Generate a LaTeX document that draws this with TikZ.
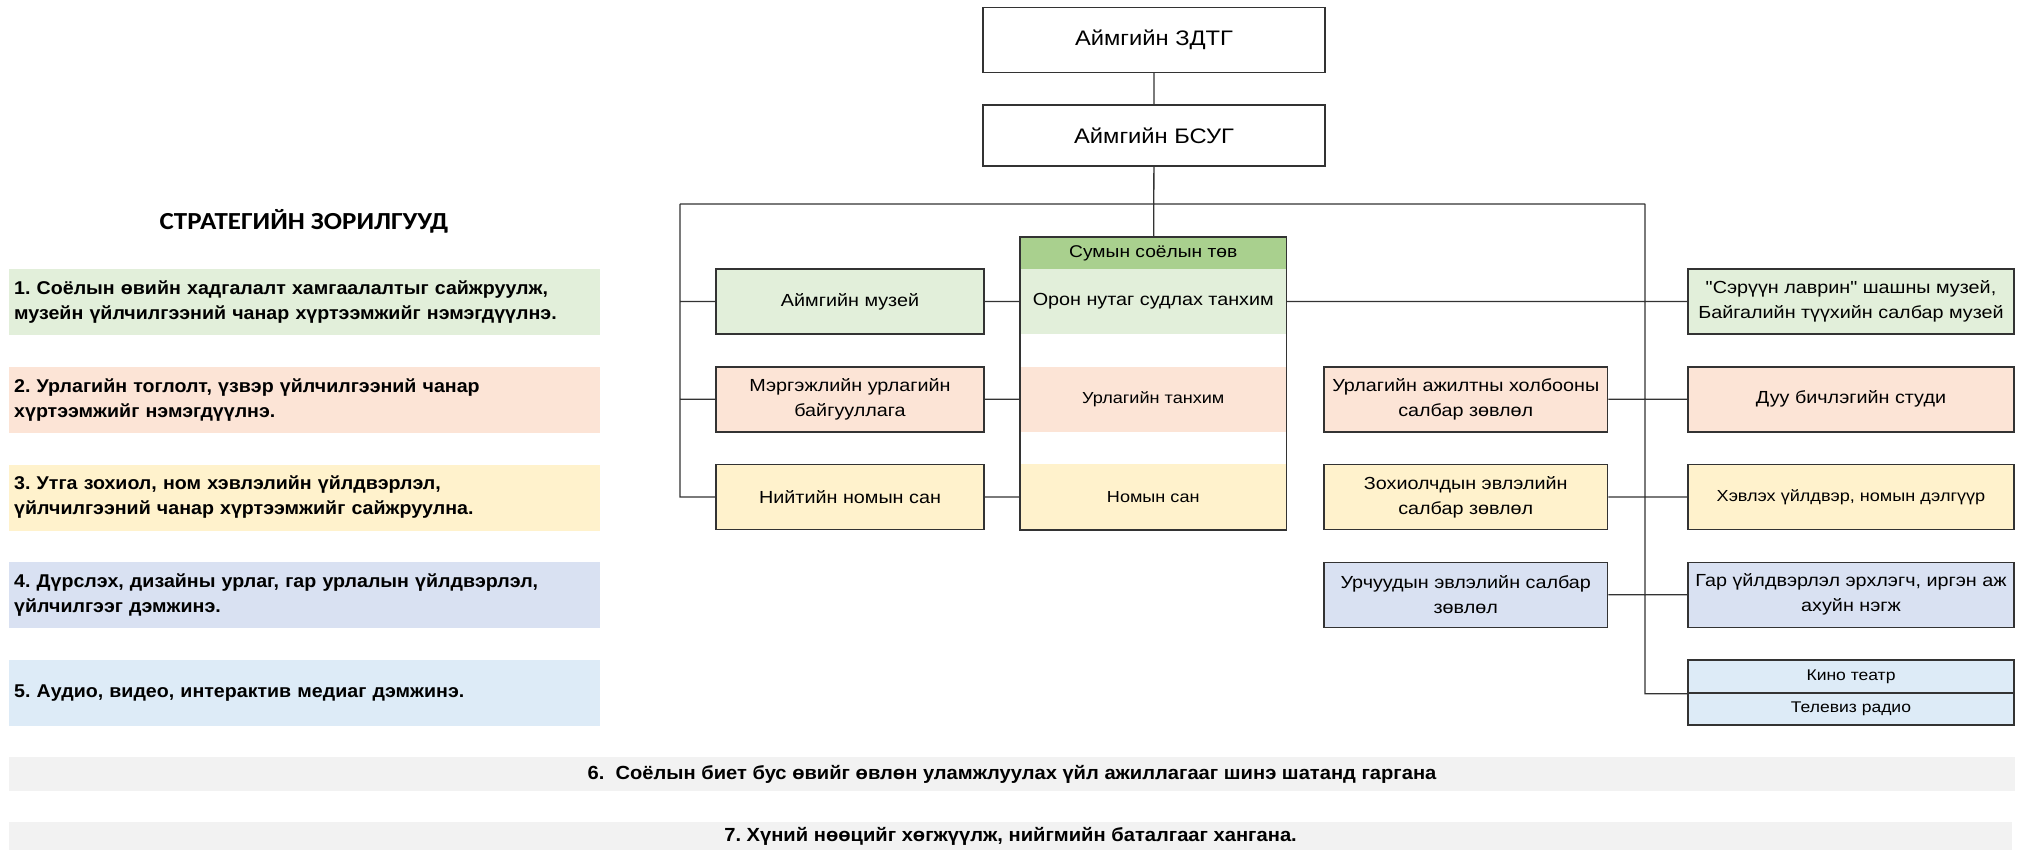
\documentclass[tikz,border=0pt]{standalone}
\usepackage{fontspec}
\setmainfont[FakeStretch=1.06]{Liberation Sans}
\newfontfamily\chart[FakeStretch=1.13]{Liberation Sans}
\newfontfamily\calib[FakeStretch=1.1]{Carlito}
\usepackage{tikz}
\usetikzlibrary{positioning,fit}
\definecolor{grn}{HTML}{E2EFDA}
\definecolor{grnd}{HTML}{A9D08E}
\definecolor{pch}{HTML}{FCE4D6}
\definecolor{ylw}{HTML}{FFF2CC}
\definecolor{lav}{HTML}{D9E1F2}
\definecolor{sky}{HTML}{DDEBF7}
\definecolor{gry}{HTML}{F2F2F2}
\definecolor{ink}{HTML}{333333}
\frenchspacing
\begin{document}
\begin{tikzpicture}[x=1pt,y=-1pt,node distance=97.75pt,on grid,
  goal/.style={minimum width=591pt,minimum height=66pt,text width=581pt,align=left,inner sep=0pt,
    font=\bfseries\fontsize{18.5}{25}\selectfont},
  bar/.style={fill=gry,inner sep=0pt,font=\bfseries\fontsize{19}{22}\selectfont},
  unit/.style={draw=ink,line width=1.5pt,minimum width=268pt,minimum height=65pt,inner sep=0pt,
    align=center,font=\chart\fontsize{17.5}{25}\selectfont},
  wide/.style={unit,minimum width=326pt},
  mid/.style={unit,minimum width=283.5pt},
  head/.style={unit,minimum width=342pt,font=\chart\fontsize{21}{26}\selectfont},
  band/.style={minimum width=266.5pt,minimum height=65pt,inner sep=0pt,align=center,
    font=\chart\fontsize{17.5}{25}\selectfont},
  small/.style={font=\chart\fontsize{16}{20}\selectfont},
  tiny/.style={font=\chart\fontsize{15.5}{18}\selectfont},
  link/.style={draw=ink,line width=1.3pt}]
\useasboundingbox (0,0) rectangle (2024,850);

\node[font=\calib\bfseries\fontsize{24.5}{28}\selectfont] (ttl) at (304,221) {СТРАТЕГИЙН ЗОРИЛГУУД};
\node[goal,fill=grn] (g1) at (304.7,302) {1. Соёлын өвийн хадгалалт хамгаалалтыг сайжруулж,\\музейн үйлчилгээний чанар хүртээмжийг нэмэгдүүлнэ.};
\node[goal,fill=pch] (g2) [below=of g1] {2. Урлагийн тоглолт, үзвэр үйлчилгээний чанар\\хүртээмжийг нэмэгдүүлнэ.};
\node[goal,fill=ylw] (g3) [below=of g2] {3. Утга зохиол, ном хэвлэлийн үйлдвэрлэл,\\үйлчилгээний чанар хүртээмжийг сайжруулна.};
\node[goal,fill=lav] (g4) [below=of g3] {4. Дүрслэх, дизайны урлаг, гар урлалын үйлдвэрлэл,\\үйлчилгээг дэмжинэ.};
\node[goal,fill=sky] (g5) [below=of g4] {5. Аудио, видео, интерактив медиаг дэмжинэ.};

\node[bar,minimum width=2006pt,minimum height=34pt] (g6) at (1012,774) {6.\ \ Соёлын биет бус өвийг өвлөн уламжлуулах үйл ажиллагааг шинэ шатанд гаргана};
\node[bar,minimum width=2003pt,minimum height=28pt] (g7) at (1010.5,836) {7. Хүний нөөцийг хөгжүүлж, нийгмийн баталгааг хангана.};

\node[head] (zdtg) at (1154,40) {Аймгийн ЗДТГ};
\node[head,minimum height=61pt] (bsug) at (1154,135.5) {Аймгийн БСУГ};

\node[band,fill=grnd,minimum height=32pt,font=\chart\fontsize{17}{20}\selectfont] (tov) at (1153.25,253) {Сумын соёлын төв};
\node[band,fill=grn] (oron) at (1153.25,301.5) {Орон нутаг судлах танхим};
\node[band,fill=pch,small] (urlt) [below=of oron] {Урлагийн танхим};
\node[band,fill=ylw,small,minimum height=66pt] (nom) [below=of urlt] {Номын сан};
\node[draw=ink,line width=1.5pt,inner sep=0pt,fit=(tov)(nom)] (sum) {};

\node[unit,fill=grn] (muzei) at (850,301.5) {Аймгийн музей};
\node[unit,fill=pch] (mergejil) [below=of muzei] {Мэргэжлийн урлагийн\\байгууллага};
\node[unit,fill=ylw] (niitiin) [below=of mergejil] {Нийтийн номын сан};

\node[mid,fill=pch] (urlajil) at (1465.75,399.25) {Урлагийн ажилтны холбооны\\салбар зөвлөл};
\node[mid,fill=ylw] (zohiol) [below=of urlajil] {Зохиолчдын эвлэлийн\\салбар зөвлөл};
\node[mid,fill=lav] (urchuud) [below=of zohiol] {Урчуудын эвлэлийн салбар\\зөвлөл};

\node[wide,fill=grn] (seruun) at (1851,301.5) {"Сэрүүн лаврин" шашны музей,\\Байгалийн түүхийн салбар музей};
\node[wide,fill=pch] (duu) [below=of seruun] {Дуу бичлэгийн студи};
\node[wide,fill=ylw,small] (hevleh) [below=of duu] {Хэвлэх үйлдвэр, номын дэлгүүр};
\node[wide,fill=lav] (gar) [below=of hevleh] {Гар үйлдвэрлэл эрхлэгч, иргэн аж\\ахуйн нэгж};
\node[wide,fill=sky,tiny,minimum height=33pt] (kino) at (1851,676.5) {Кино театр};
\node[wide,fill=sky,tiny,minimum height=32pt] (tv) [below=32.5pt of kino] {Телевиз радио};

\coordinate (lb) at (680,204);
\coordinate (rb) at (1645,204);

\path[link] (zdtg) -- (bsug)
  (bsug) -- (sum)
  (lb) -- (rb)
  (lb) |- (muzei)
  (lb) |- (mergejil)
  (lb) |- (niitiin)
  (rb) |- (kino.south west)
  (muzei) -- (oron)
  (mergejil) -- (urlt)
  (niitiin) -- (nom)
  (oron.east) -- (seruun.west)
  (urlajil) -- (duu)
  (zohiol) -- (hevleh)
  (urchuud) -- (gar);
\end{tikzpicture}
\end{document}
